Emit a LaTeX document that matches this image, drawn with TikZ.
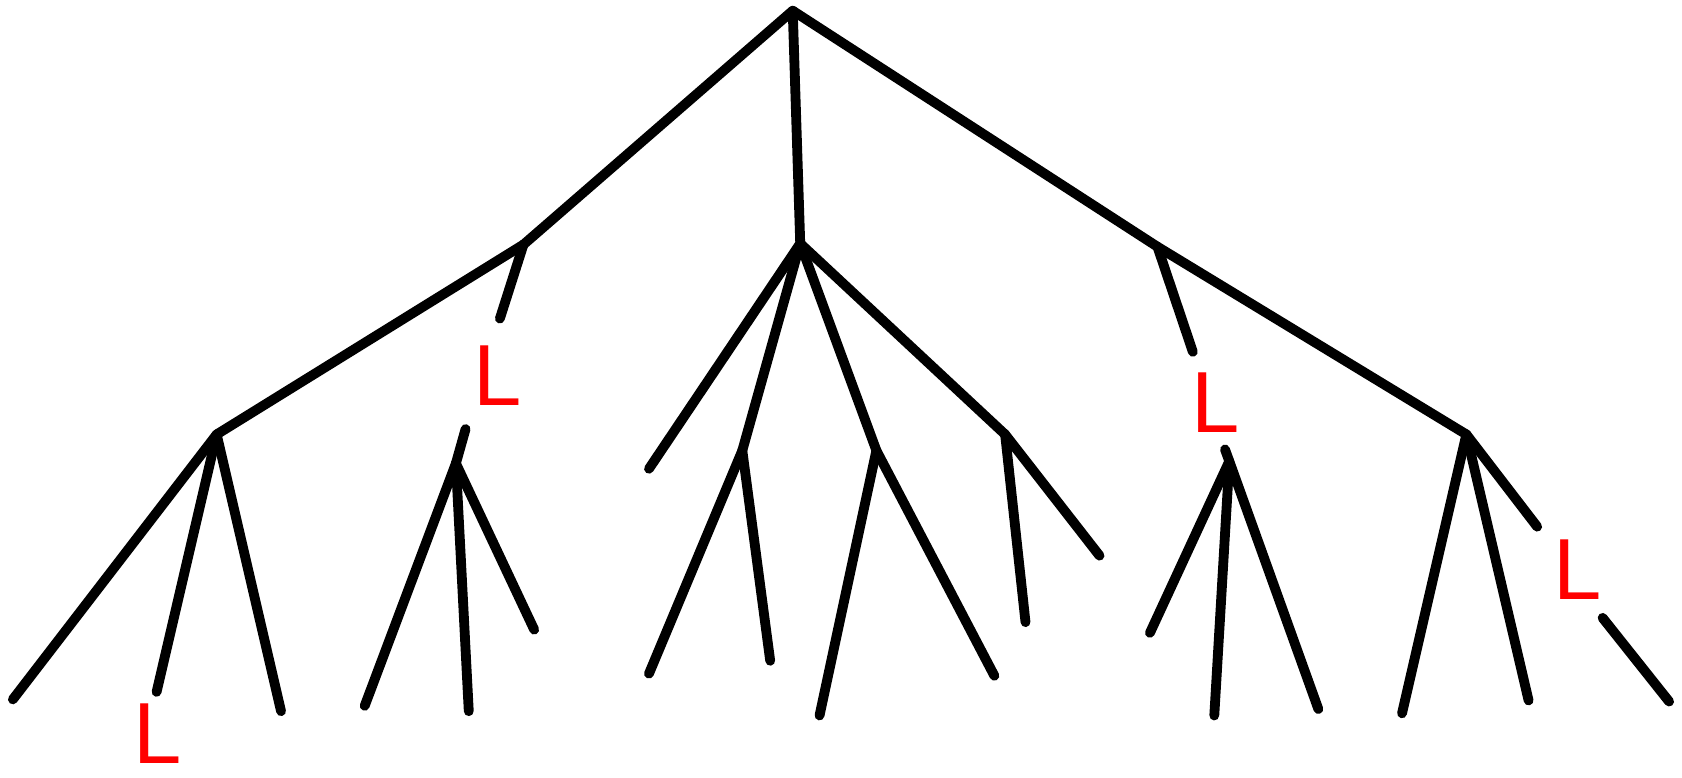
\documentclass[tikz,border=0pt]{standalone}
\usepackage{fontspec}
\newfontfamily\lsans{Liberation Sans}
\tikzset{edge/.style={line width=2.6pt, line cap=round, line join=round},
  lmark/.style={text=red, inner sep=0pt, font=\lsans\fontsize{23}{23}\selectfont}}

\begin{document}
\begin{tikzpicture}[x=0.01cm, y=-0.01cm]
  \useasboundingbox (0,0) rectangle (1568,725);
  % inner nodes
  \coordinate (root) at (739,10);
  \coordinate (a) at (488,228);
  \coordinate (m) at (746,227);
  \coordinate (r) at (1079,230);
  \coordinate (aa) at (202,405);
  \coordinate (ab) at (425,432);
  \coordinate (mb) at (692,420);
  \coordinate (mc) at (817,420);
  \coordinate (md) at (937,405);
  \coordinate (ra) at (1146,430);
  \coordinate (rr) at (1367,405);
  % leaves
  \coordinate (aa1) at (12,652);
  \coordinate (aa2) at (146,645);
  \coordinate (aa3) at (262,663);
  \coordinate (ab1) at (340,658);
  \coordinate (ab2) at (437,663);
  \coordinate (ab3) at (498,587);
  \coordinate (ma) at (605,437);
  \coordinate (mb1) at (605,628);
  \coordinate (mb2) at (718,616);
  \coordinate (mc1) at (764,667);
  \coordinate (mc2) at (927,630);
  \coordinate (md1) at (956,580);
  \coordinate (md2) at (1025,518);
  \coordinate (ra1) at (1072,590);
  \coordinate (ra2) at (1132,667);
  \coordinate (ra3) at (1229,661);
  \coordinate (rr1) at (1307,665);
  \coordinate (rr2) at (1425,653);
  \coordinate (rr3) at (1556,654);
  % gaps in the cut edges
  \coordinate (a-cut) at (466,297);
  \coordinate (ab-cut) at (434,400);
  \coordinate (r-cut) at (1112,328);
  \coordinate (ra-cut) at (1142,419);
  \coordinate (rr-cut) at (1433,491);
  \coordinate (rr3-cut) at (1494,576);
  % L marks
  \node[lmark] (l-aa2) at (147,684) {L};
  \node[lmark] (l-ab) at (464,350) {L};
  \node[lmark] (l-ra) at (1133,375) {L};
  \node[lmark] (l-rr3) at (1471,531) {L};
  % edges
  \draw[edge] (root) -- (a);
  \draw[edge] (root) -- (m);
  \draw[edge] (root) -- (r);
  \draw[edge] (a) -- (aa);
  \draw[edge] (a) -- (a-cut);
  \draw[edge] (ab-cut) -- (ab);
  \draw[edge] (r) -- (rr);
  \draw[edge] (r) -- (r-cut);
  \draw[edge] (ra-cut) -- (ra);
  \draw[edge] (rr) -- (rr-cut);
  \draw[edge] (rr3-cut) -- (rr3);
  \foreach \c in {ma,mb,mc,md} {\draw[edge] (m) -- (\c);}
  \foreach \p/\c in {aa/aa1,aa/aa2,aa/aa3,ab/ab1,ab/ab2,ab/ab3,mb/mb1,mb/mb2,
    mc/mc1,mc/mc2,md/md1,md/md2,ra/ra1,ra/ra2,ra/ra3,rr/rr1,rr/rr2}
    {\draw[edge] (\p) -- (\c);}
\end{tikzpicture}
\end{document}
